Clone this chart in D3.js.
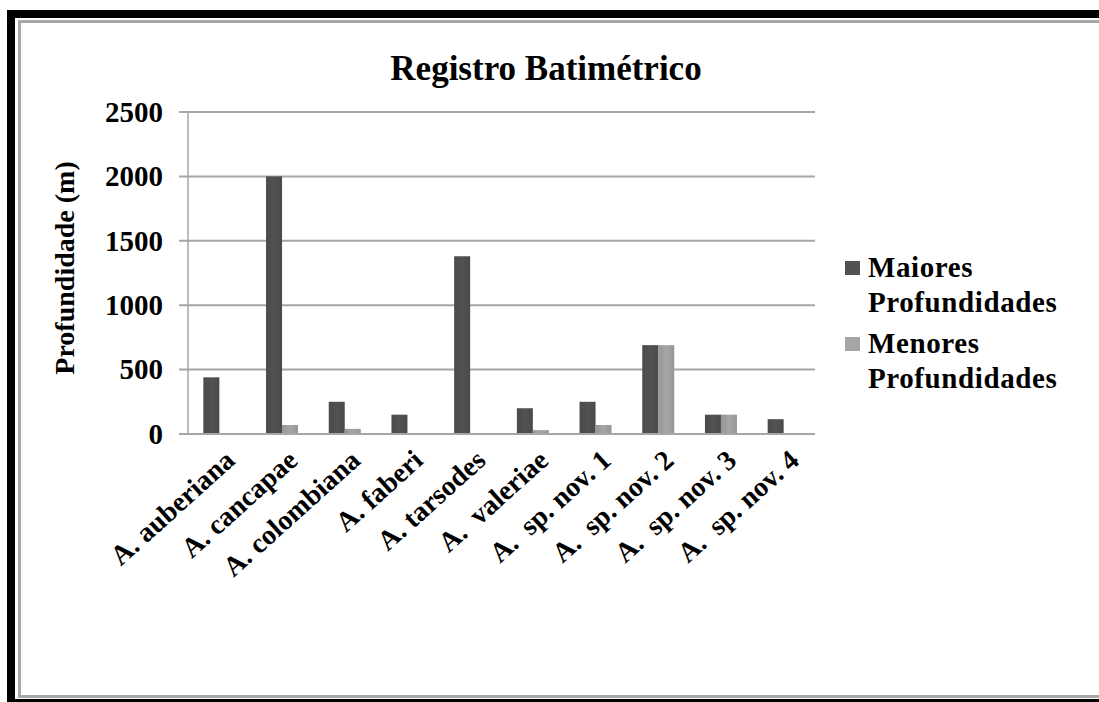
<!DOCTYPE html>
<html>
<head>
<meta charset="utf-8">
<script src="https://cdn.jsdelivr.net/npm/d3@7"></script>
<style>
  body { margin: 0; background: #fff; }
  svg { display: block; }
</style>
</head>
<body>
<div class="draw"></div>
<script>
var categories = ['A. auberiana', 'A. cancapae', 'A. colombiana', 'A. faberi', 'A. tarsodes',
  'A.  valeriae', 'A.  sp. nov. 1', 'A.  sp. nov. 2', 'A.  sp. nov. 3', 'A.  sp. nov. 4'];
var series = ['Maiores Profundidades', 'Menores Profundidades'];
var maiores = [440, 2000, 250, 150, 1380, 200, 250, 690, 150, 115];
var menores = [0, 70, 40, 0, 0, 30, 70, 690, 150, 0];
var yTicks = [0, 500, 1000, 1500, 2000, 2500];

var size = { w: 1099, h: 702 };
var plot = { left: 188, right: 815, top: 112, bottom: 434 };
var colors = ['#525252', '#a6a6a6'];

var svg = d3.select('.draw').append('svg')
  .attr('width', size.w)
  .attr('height', size.h)
  .attr('font-family', '"Liberation Serif", "Times New Roman", serif');

// frame
svg.append('rect').attr('x', 11).attr('y', 14).attr('width', size.w + 20).attr('height', 689)
  .attr('fill', 'none').attr('stroke', '#000').attr('stroke-width', 8);
svg.append('rect').attr('x', 19.5).attr('y', 21.5).attr('width', size.w + 20).attr('height', 675)
  .attr('fill', 'none').attr('stroke', '#a8a8a8').attr('stroke-width', 3);

var x0 = d3.scaleBand().domain(categories).range([plot.left, plot.right]);
var x1 = d3.scaleBand().domain(series).range([0, x0.bandwidth()]).paddingOuter(0.96);
var y = d3.scaleLinear().domain([0, 2500]).range([plot.bottom, plot.top]);

// grid lines
svg.append('g').selectAll('line').data(yTicks).enter().append('line')
  .attr('x1', plot.left - 9).attr('x2', plot.right)
  .attr('y1', function(d) { return y(d); }).attr('y2', function(d) { return y(d); })
  .attr('stroke', '#a6a6a6').attr('stroke-width', 2);
svg.append('line')
  .attr('x1', plot.left).attr('x2', plot.left)
  .attr('y1', plot.top).attr('y2', plot.bottom)
  .attr('stroke', '#a6a6a6').attr('stroke-width', 1.5);

// y tick labels
svg.append('g').selectAll('text').data(yTicks).enter().append('text')
  .attr('x', 163).attr('y', function(d) { return y(d); })
  .attr('dy', '0.34em')
  .attr('text-anchor', 'end')
  .attr('font-size', 29).attr('font-weight', 'bold')
  .text(function(d) { return d; });

// bars
var defs = svg.append('defs');
colors.forEach(function(c, i) {
  var g = defs.append('linearGradient').attr('id', 'grad' + i).attr('x1', 0).attr('x2', 1);
  g.append('stop').attr('offset', '0%').attr('stop-color', d3.color(c).darker(0.3));
  g.append('stop').attr('offset', '50%').attr('stop-color', c);
  g.append('stop').attr('offset', '100%').attr('stop-color', d3.color(c).darker(0.3));
});

var rows = categories.map(function(c, i) { return { cat: c, values: [maiores[i], menores[i]] }; });
var groups = svg.append('g').selectAll('g').data(rows).enter().append('g')
  .attr('transform', function(d) { return 'translate(' + x0(d.cat) + ',0)'; });
groups.selectAll('rect').data(function(d) { return d.values; }).enter().append('rect')
  .attr('x', function(d, i) { return x1(series[i]); })
  .attr('width', x1.bandwidth())
  .attr('y', function(d) { return y(d); })
  .attr('height', function(d) { return y(0) - y(d); })
  .attr('fill', function(d, i) { return 'url(#grad' + i + ')'; });

// x axis line
svg.append('line')
  .attr('x1', plot.left - 9).attr('x2', plot.right)
  .attr('y1', plot.bottom).attr('y2', plot.bottom)
  .attr('stroke', '#a6a6a6').attr('stroke-width', 2);

// x labels
svg.append('g').selectAll('text').data(categories).enter().append('text')
  .attr('transform', function(d) {
    return 'translate(' + (x0(d) + x0.bandwidth() / 2 + 4) + ',' + (plot.bottom + 14) + ') rotate(-42)';
  })
  .attr('text-anchor', 'end')
  .attr('dy', '0.7em')
  .attr('font-size', 28).attr('font-weight', 'bold')
  .style('white-space', 'pre')
  .text(function(d) { return d; });

// title
svg.append('text')
  .attr('x', 546).attr('y', 80)
  .attr('text-anchor', 'middle')
  .attr('font-size', 35).attr('font-weight', 'bold')
  .text('Registro Batimétrico');

// y axis title
svg.append('text')
  .attr('transform', 'translate(74,268) rotate(-90)')
  .attr('text-anchor', 'middle')
  .attr('font-size', 28).attr('font-weight', 'bold')
  .text('Profundidade (m)');

// legend
var legend = svg.append('g').selectAll('g').data(series).enter().append('g')
  .attr('transform', function(d, i) { return 'translate(845,' + (261 + i * 76) + ')'; });
legend.append('rect')
  .attr('width', 15).attr('height', 14)
  .attr('fill', function(d, i) { return colors[i]; });
legend.each(function(d) {
  var words = d.split(' ');
  var t = d3.select(this).append('text')
    .attr('x', 23).attr('y', 16)
    .attr('font-size', 29).attr('font-weight', 'bold')
    .attr('letter-spacing', 0.6);
  words.forEach(function(w, j) {
    t.append('tspan').attr('x', 23).attr('dy', j === 0 ? 0 : 35).text(w);
  });
});
</script>
</body>
</html>
